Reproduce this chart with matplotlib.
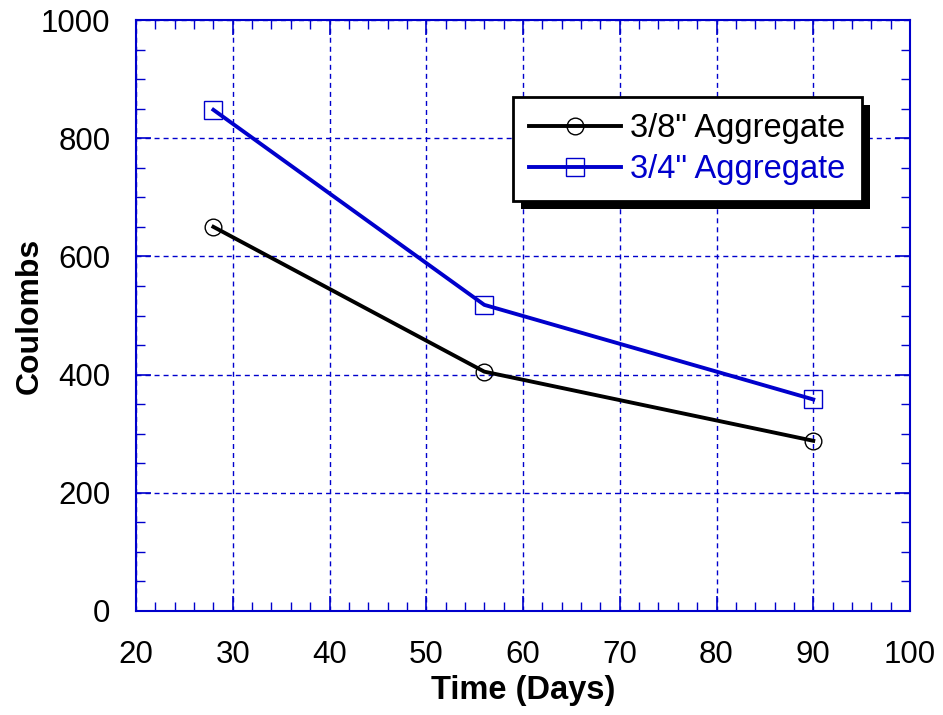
import numpy as np
import matplotlib.pyplot as plt
from matplotlib.ticker import MultipleLocator
from matplotlib.patches import Rectangle

plt.rcParams['font.family'] = ['Liberation Sans', 'DejaVu Sans']

# Час витримки, дні
days = [28, 56, 90]
# Заряд, Кулони
agg_38 = [650, 405, 288]
agg_34 = [848, 518, 358]

blue = '#0000cc'

fig = plt.figure(figsize=(9.43, 7.15), dpi=100)
ax = fig.add_axes([136 / 943, 1 - 611 / 715, 774 / 943, 591 / 715])

ax.plot(days, agg_38, color='black', lw=2.8, marker='o', ms=12, mfc='none',
        mec='black', mew=1.0, label='3/8" Aggregate', zorder=3)
ax.plot(days, agg_34, color=blue, lw=2.8, marker='s', ms=12.5, mfc='none',
        mec=blue, mew=1.0, label='3/4" Aggregate', zorder=3)

ax.set_xlim(20, 100)
ax.set_ylim(0, 1000)
ax.xaxis.set_major_locator(MultipleLocator(10))
ax.xaxis.set_minor_locator(MultipleLocator(2))
ax.yaxis.set_major_locator(MultipleLocator(200))
ax.yaxis.set_minor_locator(MultipleLocator(50))

for s in ax.spines.values():
    s.set_color(blue)
    s.set_linewidth(1.5)
ax.tick_params(which='both', direction='in', top=True, right=True, color=blue,
               labelsize=22.5, labelcolor='black')
ax.tick_params(axis='x', which='major', pad=21)
ax.tick_params(axis='y', which='major', pad=18.5)
ax.tick_params(which='major', length=11, width=1.2)
ax.tick_params(which='minor', length=6.5, width=1.0)
ax.grid(True, which='major', color=blue, linestyle=(0, (3.6, 2.9)), linewidth=1.0)

ax.set_xlabel('Time (Days)', fontsize=23.5, fontweight='bold')
ax.set_ylabel('Coulombs', fontsize=23, fontweight='bold')
ax.xaxis.set_label_coords(0.5, -0.108)
ax.yaxis.set_label_coords(-0.118, 0.5)

leg = ax.legend(loc='upper right', bbox_to_anchor=(0.938, 0.870), fontsize=23.5,
                frameon=True, fancybox=False, framealpha=1,
                borderpad=0.5, handlelength=2.8, labelspacing=0.3,
                handletextpad=0.3, borderaxespad=0)
leg.get_frame().set_edgecolor('black')
leg.get_frame().set_linewidth(2)
leg.get_texts()[1].set_color(blue)

# тінь під легендою
fig.canvas.draw()
bb = leg.get_frame().get_window_extent()
shadow = Rectangle((bb.x0 + 8, bb.y0 - 8), bb.width, bb.height, transform=None,
                   facecolor='black', edgecolor='none', zorder=4.9, clip_on=False)
ax.add_patch(shadow)

plt.savefig('out.png', dpi=100)
